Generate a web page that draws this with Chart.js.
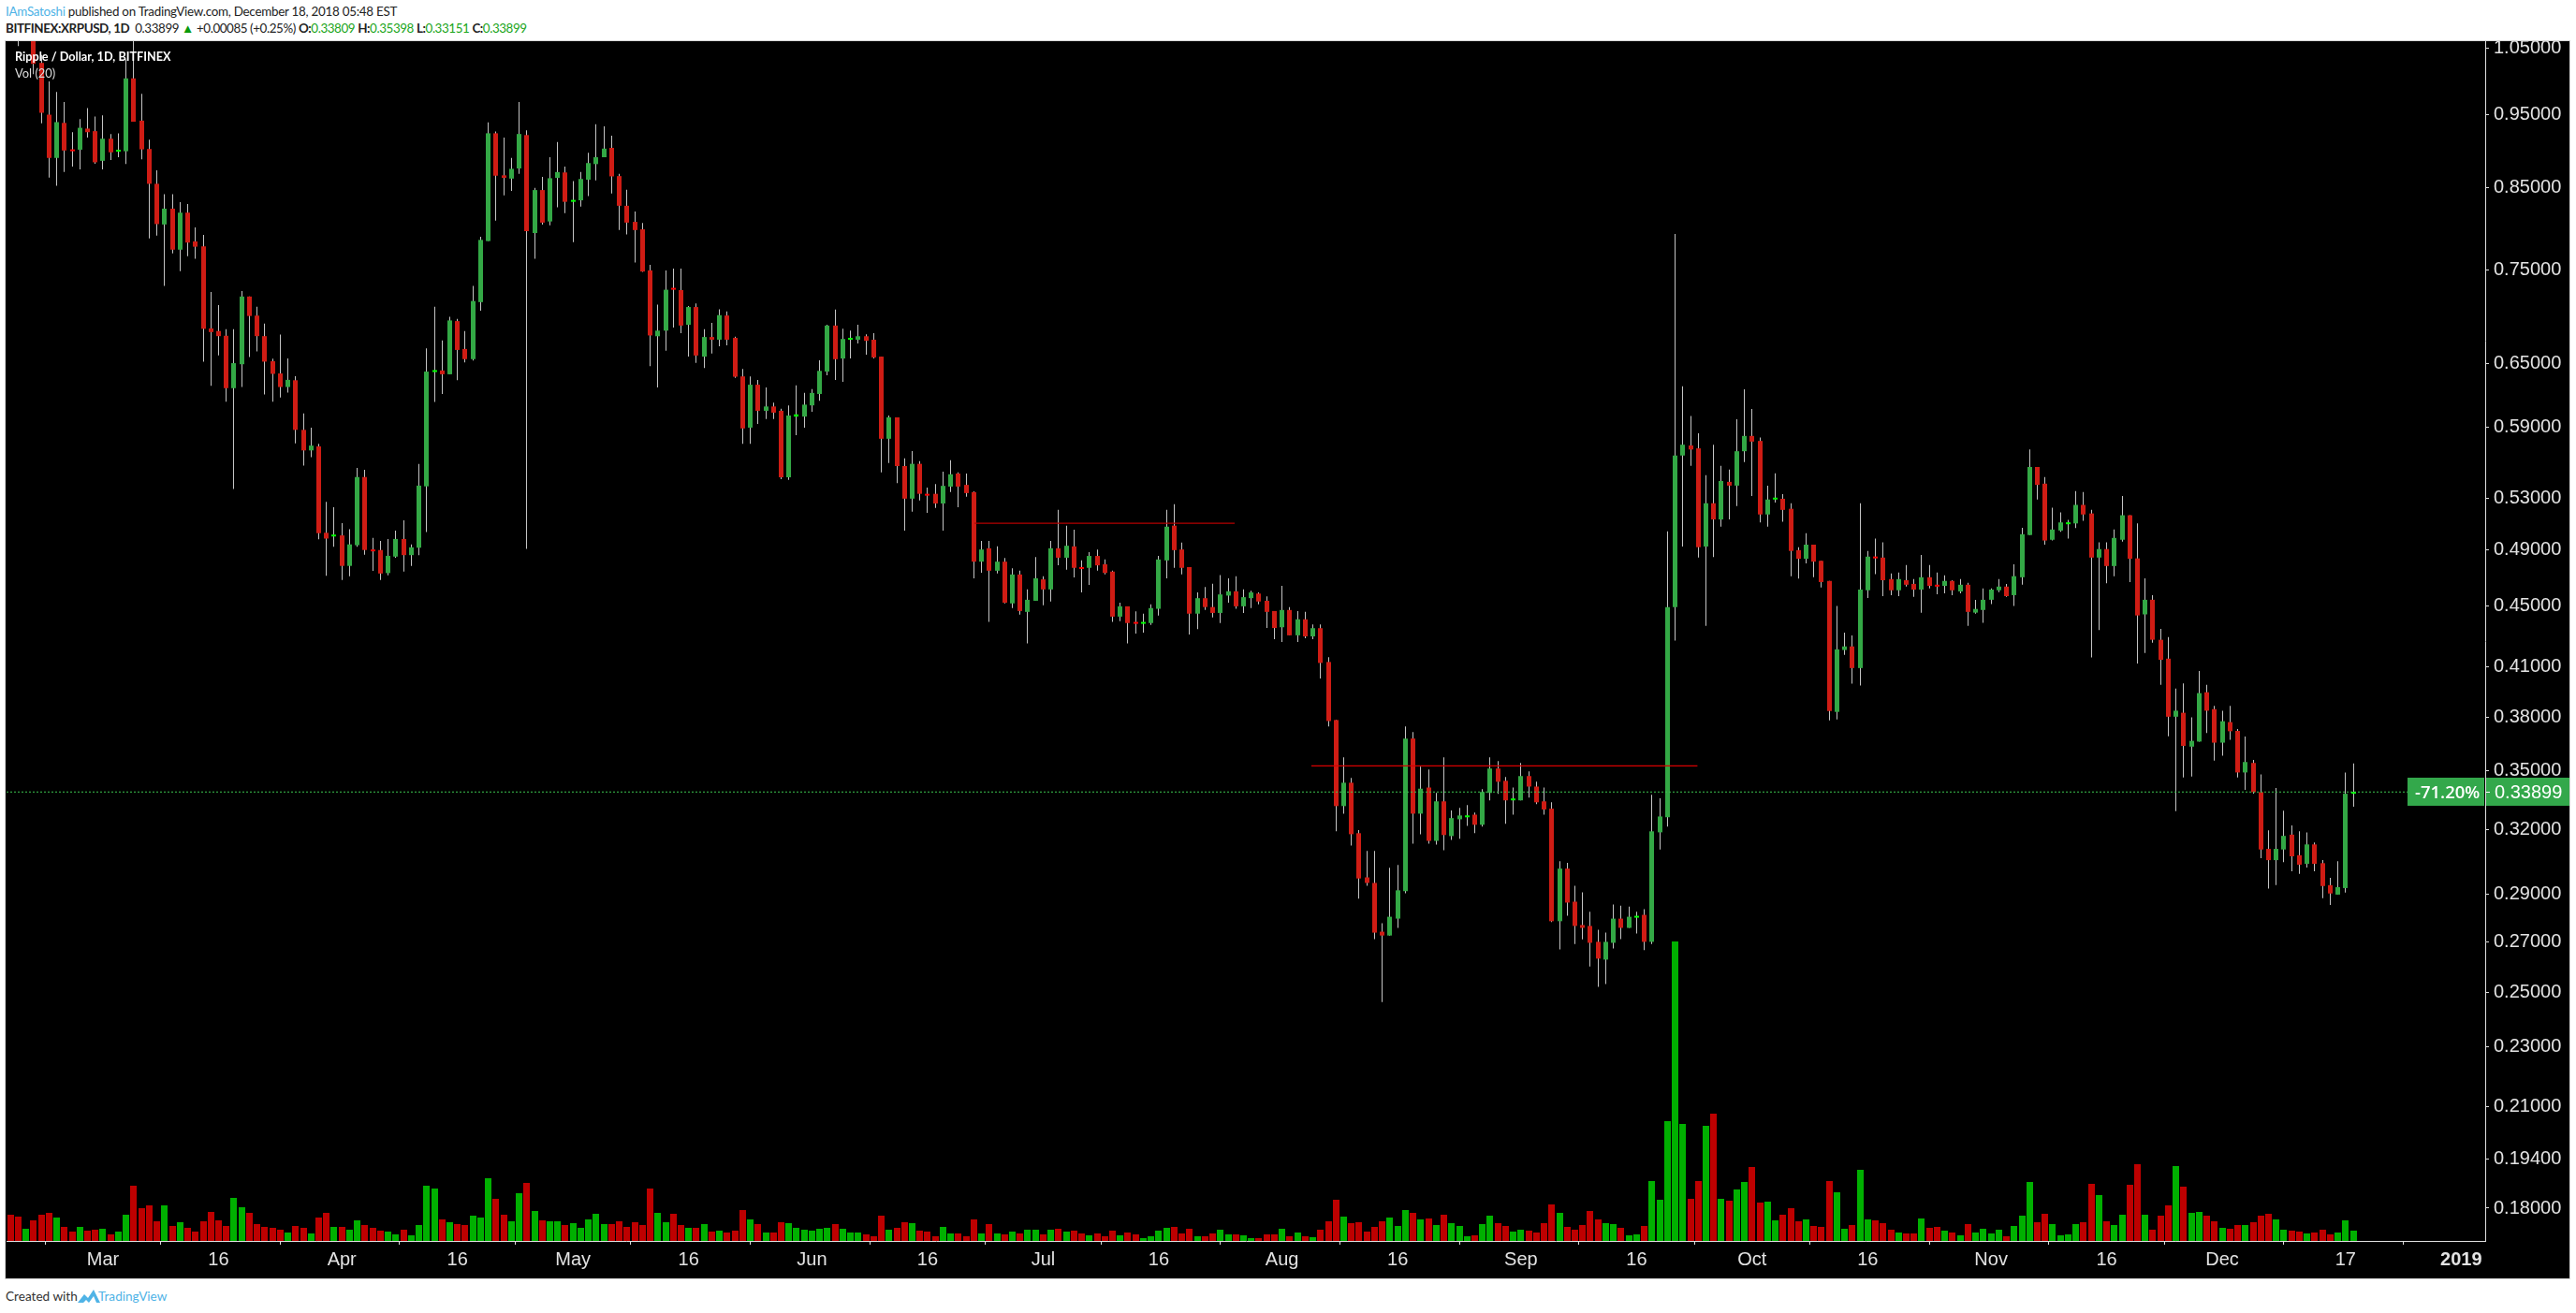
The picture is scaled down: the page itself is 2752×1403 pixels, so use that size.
<!DOCTYPE html>
<html><head><meta charset="utf-8"><title>XRPUSD</title>
<script src="https://cdn.jsdelivr.net/npm/chart.js@4/dist/chart.umd.min.js"></script>
<style>
html,body{margin:0;padding:0;background:#fff;width:2752px;height:1403px;overflow:hidden}
.t{position:absolute;white-space:nowrap;font-family:Lato,"Noto Sans",sans-serif;font-size:13.4px;color:#222;line-height:18px}
.g{color:#1aa51a}.b{color:#4fb3e6}.k{font-weight:700}
#frame{position:absolute;left:5px;top:43px;width:2739px;height:1322px;border:1px solid #d6d6d6;background:#000}
canvas{position:absolute;left:0;top:0}
</style></head><body>
<div class="t" style="left:6px;top:3px;letter-spacing:-.26px"><span class="b">IAmSatoshi</span> published on TradingView.com, December 18, 2018 05:48 EST</div>
<div class="t" style="left:6px;top:21px;letter-spacing:-.42px"><span class="k">BITFINEX:XRPUSD, 1D</span>&nbsp; 0.33899 <span style="color:#0a9a0a">▲</span> +0.00085 (+0.25%) <span class="k">O:</span><span class="g">0.33809</span> <span class="k">H:</span><span class="g">0.35398</span> <span class="k">L:</span><span class="g">0.33151</span> <span class="k">C:</span><span class="g">0.33899</span></div>
<div id="frame"><canvas id="c" width="2739" height="1322"></canvas></div>
<div class="t" style="left:16px;top:51px;color:#fff;font-size:12.7px;font-weight:700">Ripple / Dollar, 1D, BITFINEX</div>
<div class="t" style="left:16px;top:69px;color:#ddd;font-size:12.9px">Vol (20)</div>
<div class="t" style="left:6px;top:1376px;color:#333;font-size:13.6px">Created with</div>
<svg style="position:absolute;left:83px;top:1377px" width="24" height="16" viewBox="0 0 24 16"><path d="M0 15 L7 6 L11 10 L17 1 L24 15 L20 15 L17 8 L12 15 L9 12 L6 15 Z" fill="#4fb3e6"/></svg>
<div class="t b" style="left:105px;top:1376px;font-size:13.6px">TradingView</div>
<script>
const firstDay = -12; // days relative to 1 March 2018
const opens = [
1.15,1.12,1.10,1.10,1.0275,.9497,.8892,.9379,.9004,.9004,
.9298,.9262,.8853,.9156,.8978,.8983,1.0036,.9411,.9014,.8549,
.8036,.8232,.7734,.8182,.7832,.7773,.6861,.6834,.6785,.6265,
.6497,.7202,.6996,.6781,.6527,.6407,.6276,.6341,.5880,.5699,
.5734,.5028,.5000,.5008,.4781,.4934,.5473,.4901,.4898,.4729,
.4849,.4981,.4860,.4915,.5396,.6421,.6436,.6399,.6938,.6650,
.6548,.7141,.7836,.9232,.8660,.8617,.8751,.9207,.7932,.8468,
.8073,.8626,.8698,.8318,.8337,.8602,.8809,.8902,.9029,.8650,
.8268,.8068,.7977,.7494,.6780,.6838,.7294,.7273,.6899,.7088,
.6573,.6772,.6744,.6997,.6763,.6378,.5900,.6298,.6053,.6093,
.6053,.5471,.6000,.6000,.6103,.6210,.6425,.6891,.6554,.6744,
.6744,.6780,.6744,.6573,.5801,.5993,.5565,.5296,.5584,.5335,
.5335,.5257,.5394,.5502,.5408,.5349,.4812,.4911,.4746,.4812,
.4516,.4719,.4458,.4534,.4684,.4613,.4911,.4841,.4925,.4772,
.4767,.4854,.4793,.4740,.4426,.4496,.4388,.4378,.4383,.4479,
.4821,.5083,.4902,.4772,.4446,.4552,.4491,.4451,.4570,.4600,
.4496,.4552,.4584,.4534,.4464,.4355,.4471,.4302,.4408,.4295,
.4349,.4131,.3782,.3318,.3438,.3184,.2977,.2952,.2741,.2725,
.2796,.2915,.3677,.3280,.3413,.3147,.3342,.3170,.3252,.3262,
.3275,.3225,.3385,.3513,.3448,.3347,.3347,.3473,.3418,.3342,
.3305,.2785,.3017,.2869,.2769,.2765,.2699,.2627,.2695,.2796,
.2757,.2800,.2812,.2699,.3188,.3262,.4490,.5655,.5742,.5717,
.4924,.5259,.5131,.5433,.5402,.5692,.5826,.5782,.5170,.5289,
.5295,.5215,.4897,.4833,.4938,.4818,.4673,.3829,.4207,.4230,
.4093,.4607,.4849,.4842,.4686,.4607,.4678,.4652,.4612,.4699,
.4646,.4638,.4673,.4599,.4646,.4453,.4471,.4541,.4607,.4633,
.4573,.4699,.5011,.5557,.5418,.4975,.5045,.5094,.5100,.5246,
.5178,.4842,.4905,.4780,.4975,.5164,.4836,.4441,.4541,.4273,
.4152,.3801,.3824,.3632,.3660,.3945,.3845,.3654,.3770,.3720,
.3492,.3543,.3389,.3109,.3056,.3106,.3177,.3079,.3039,.3130,
.3042,.2942,.2900,.2929,.33809];
const highs = [
1.17,1.15,1.13,1.12,1.04,.9990,.9831,.9680,.9247,.9433,
.9594,.9470,.9486,.9222,.9232,1.0331,1.07,.9804,.9141,.8727,
.8415,.8415,.8313,.8290,.8000,.7909,.7251,.7108,.6853,.6853,
.7263,.7202,.7090,.6911,.6552,.6796,.6555,.6381,.6028,.5900,
.5757,.5270,.5228,.5103,.5055,.5549,.5534,.4989,.4967,.4981,
.5044,.5124,.4940,.5583,.6657,.7090,.6736,.6984,.6961,.6834,
.7320,.7886,.9385,.9257,.9171,.8892,.9680,.9272,.8497,.8641,
.8902,.9110,.8775,.8583,.8703,.8963,.9359,.9330,.9197,.8679,
.8473,.8195,.8054,.7558,.7115,.7494,.7515,.7515,.7099,.7127,
.6852,.6919,.7064,.7040,.6775,.6450,.6378,.6344,.6273,.6129,
.6073,.6103,.6291,.6220,.6256,.6536,.6899,.7060,.6859,.6838,
.6899,.6800,.6812,.6573,.6010,.5993,.5631,.5694,.5606,.5385,
.5414,.5518,.5615,.5512,.5502,.5355,.4967,.4967,.4925,.4839,
.4764,.4746,.4613,.4846,.4706,.4967,.5207,.5083,.5051,.4821,
.4882,.4902,.4828,.4746,.4521,.4496,.4461,.4446,.4509,.4854,
.5207,.5251,.4953,.4772,.4592,.4630,.4653,.4714,.4692,.4706,
.4613,.4603,.4592,.4565,.4464,.4638,.4491,.4464,.4458,.4374,
.4374,.4161,.3782,.3573,.3463,.3199,.3099,.3099,.2777,.3021,
.3034,.3745,.3713,.3523,.3508,.3385,.3573,.3296,.3309,.3323,
.3285,.3405,.3573,.3553,.3468,.3413,.3543,.3498,.3443,.3413,
.3337,.3051,.3043,.2939,.2910,.2825,.2749,.2737,.2857,.2852,
.2848,.2825,.2836,.3376,.3357,.5039,.7921,.6282,.6006,.5849,
.5488,.5749,.5567,.5535,.5975,.6254,.6070,.5812,.5402,.5504,
.5333,.5259,.4919,.5025,.4938,.4818,.4673,.4498,.4320,.4301,
.5259,.4891,.4983,.4955,.4726,.4734,.4787,.4686,.4862,.4787,
.4734,.4713,.4678,.4686,.4660,.4541,.4620,.4620,.4686,.4652,
.4792,.5067,.5707,.5557,.5473,.5224,.5187,.5128,.5358,.5350,
.5206,.4955,.4955,.5053,.5317,.5164,.5100,.4691,.4573,.4344,
.4290,.3968,.3998,.3797,.4075,.3990,.3864,.3836,.3864,.3731,
.3688,.3559,.3482,.3198,.3411,.3295,.3222,.3193,.3188,.3139,
.3056,.2975,.3051,.3492,.35398];
const lows = [
1.08,1.054,1.07,1.010,.9374,.8631,.8525,.8703,.8775,.8737,
.9171,.8813,.8737,.8863,.8902,.8809,.9395,.8873,.7868,.7900,
.7320,.7691,.7485,.7657,.7627,.6523,.6287,.6585,.6138,.5375,
.6276,.6570,.6625,.6206,.6138,.6176,.6224,.5760,.5570,.5641,
.4978,.4710,.4923,.4680,.4707,.4923,.4863,.4745,.4680,.4713,
.4841,.4740,.4781,.4860,.5034,.6135,.6210,.6399,.6341,.6515,
.6534,.7048,.7836,.8082,.8401,.8458,.8679,.4907,.7627,.8036,
.8027,.8250,.8177,.7823,.8259,.8391,.8593,.8902,.8424,.7968,
.7914,.7584,.7477,.6479,.6273,.6633,.6871,.6812,.6573,.6511,
.6461,.6603,.6677,.6688,.6364,.5757,.5757,.5933,.5977,.5977,
.5455,.5449,.5833,.5900,.6043,.6146,.6390,.6344,.6326,.6554,
.6707,.6592,.6554,.5512,.5590,.5423,.5045,.5192,.5281,.5183,
.5222,.5045,.5349,.5228,.5311,.4692,.4732,.4391,.4727,.4516,
.4484,.4439,.4250,.4534,.4504,.4529,.4785,.4753,.4698,.4592,
.4645,.4746,.4719,.4391,.4396,.4250,.4314,.4319,.4371,.4433,
.4692,.4767,.4719,.4307,.4342,.4471,.4421,.4383,.4521,.4479,
.4451,.4484,.4509,.4350,.4277,.4258,.4302,.4258,.4283,.4276,
.4028,.3745,.3193,.3280,.3125,.2882,.2939,.2710,.2463,.2725,
.2757,.2906,.3134,.3179,.3134,.3129,.3102,.3152,.3157,.3220,
.3184,.3216,.3347,.3380,.3230,.3275,.3347,.3361,.3328,.3275,
.2781,.2668,.2808,.2690,.2709,.2600,.2520,.2531,.2672,.2710,
.2757,.2733,.2665,.2690,.3106,.3216,.4268,.4924,.5567,.4842,
.4364,.4845,.5075,.5131,.5237,.5598,.5317,.5108,.5075,.5265,
.5114,.4707,.4689,.4800,.4699,.4626,.3780,.3786,.4176,.3997,
.3986,.4553,.4721,.4566,.4573,.4566,.4633,.4561,.4453,.4620,
.4579,.4586,.4573,.4586,.4364,.4446,.4384,.4511,.4594,.4561,
.4498,.4646,.5011,.5289,.4938,.4969,.5036,.4983,.5064,.5120,
.4159,.4336,.4656,.4707,.4961,.4665,.4122,.4188,.4254,.3990,
.3690,.3292,.3466,.3470,.3660,.3708,.3556,.3582,.3670,.3465,
.3401,.3381,.3065,.2927,.2942,.3047,.3005,.2993,.3022,.3005,
.2884,.2855,.2900,.2909,.33151];
const closes = [
1.12,1.10,1.10,1.026,.9524,.8892,.9390,.8993,.8983,.9309,
.9247,.8833,.9156,.8968,.8988,1.0036,.9395,.9009,.8549,.8041,
.8232,.7734,.8182,.7818,.7769,.6857,.6823,.6781,.6265,.6508,
.7202,.6992,.6781,.6523,.6403,.6276,.6345,.5880,.5699,.5741,
.5025,.4984,.5006,.4781,.4940,.5473,.4898,.4888,.4726,.4855,
.4981,.4860,.4918,.5402,.6425,.6436,.6399,.6945,.6640,.6548,
.7153,.7850,.9232,.8655,.8626,.8746,.9222,.7955,.8468,.8059,
.8622,.8703,.8318,.8342,.8612,.8823,.8902,.9019,.8646,.8268,
.8059,.7968,.7481,.6788,.6838,.7277,.7277,.6891,.7088,.6584,
.6772,.6744,.7001,.6744,.6375,.5893,.6298,.6053,.6093,.6036,
.5471,.6010,.6020,.6110,.6220,.6432,.6891,.6547,.6752,.6752,
.6780,.6733,.6565,.5801,.5993,.5565,.5296,.5584,.5335,.5320,
.5257,.5400,.5496,.5394,.5341,.4812,.4902,.4746,.4812,.4521,
.4719,.4464,.4541,.4692,.4613,.4911,.4841,.4930,.4767,.4759,
.4854,.4785,.4730,.4426,.4496,.4383,.4378,.4388,.4484,.4828,
.5075,.4897,.4767,.4446,.4552,.4491,.4451,.4578,.4600,.4496,
.4559,.4592,.4529,.4458,.4350,.4471,.4302,.4408,.4295,.4349,
.4125,.3776,.3318,.3438,.3179,.2972,.2952,.2737,.2725,.2804,
.2919,.3677,.3280,.3407,.3147,.3342,.3175,.3258,.3271,.3271,
.3225,.3390,.3513,.3443,.3347,.3352,.3473,.3418,.3337,.3301,
.2785,.3017,.2865,.2765,.2757,.2695,.2631,.2699,.2796,.2757,
.2804,.2808,.2699,.3193,.3266,.4490,.5655,.5749,.5707,.4919,
.5259,.5131,.5440,.5402,.5692,.5826,.5776,.5170,.5289,.5295,
.5206,.4891,.4833,.4938,.4812,.4665,.3834,.4211,.4230,.4093,
.4612,.4849,.4836,.4678,.4607,.4686,.4646,.4612,.4699,.4638,
.4633,.4673,.4607,.4646,.4458,.4478,.4541,.4612,.4633,.4566,
.4707,.5017,.5557,.5408,.4969,.5053,.5108,.5108,.5246,.5170,
.4842,.4905,.4780,.4989,.5164,.4833,.4434,.4541,.4273,.4145,
.3801,.3836,.3636,.3664,.3940,.3836,.3654,.3775,.3718,.3492,
.3548,.3389,.3106,.3056,.3109,.3171,.3074,.3035,.3130,.3039,
.2938,.2905,.2933,.3381,.33899];
const volumesHalf = [ // twice these = volume, millions (estimated)
28,26,13,22,28,30,25,15,10,15,
11,12,13,7,10,28,59,35,38,21,
38,16,20,14,10,21,31,22,16,46,
36,30,18,15,14,12,9,16,14,8,
25,30,15,15,12,22,17,14,11,10,
7,12,6,17,59,56,23,20,18,17,
27,25,67,45,28,21,51,62,32,22,
21,21,17,19,14,23,29,18,18,21,
15,20,17,56,30,20,29,17,14,14,
18,10,11,9,11,33,23,18,9,9,
20,19,14,12,11,13,14,18,13,9,
9,7,5,27,12,14,20,19,11,10,
5,15,8,8,5,23,8,18,8,7,
10,8,12,12,7,12,13,10,11,8,
6,8,5,11,6,9,7,3,5,11,
14,15,8,13,5,5,8,12,7,7,
6,3,3,7,7,13,5,9,5,4,
12,21,44,26,19,20,10,15,21,25,
16,33,30,23,24,17,28,19,16,5,
6,18,27,19,16,10,12,11,9,19,
39,30,15,12,17,32,23,19,18,14,
6,7,16,64,44,128,320,125,45,64,
123,136,45,43,55,63,79,41,42,22,
28,35,21,23,16,15,64,52,13,17,
76,23,22,19,12,9,8,8,24,14,
15,11,9,6,18,9,13,8,12,5,
16,27,63,20,29,18,6,7,18,20,
61,49,21,17,28,60,82,28,12,27,
38,80,58,30,31,27,21,14,13,17,
17,20,27,29,23,12,11,10,8,9,
12,7,9,22,11];
const priceTicks = [1.05,.95,.85,.75,.65,.59,.53,.49,.45,.41,.38,.35,.32,.29,.27,.25,.23,.21,.194,.18];
const timeTickDays = [0,15,31,46,61,76,92,107,122,137,153,168,184,199,214,229,245,260,275,291,306];
const timeTickLabels = ['Mar','16','Apr','16','May','16','Jun','16','Jul','16','Aug','16','Sep','16','Oct','16','Nov','16','Dec','17','2019'];
const resistanceA = {from:113.1,to:146.85,price:.5102};
const resistanceB = {from:156.8,to:206.9,price:.3527};
const lastPrice = .33899;
const lastChangeLabel = '-71.20%';

const RED='#cf1c14',GREEN='#33a845',RED_DOJI='#ff0000',GREEN_DOJI='#00ff00',VOL_RED='#be0000',VOL_GREEN='#00b000';
const days = opens.map((_,i)=>firstDay+i);
const isUp = i => closes[i]>=opens[i];
const isDoji = i => Math.abs(Math.log(closes[i]/opens[i]))<0.0036;
const volumes = volumesHalf.map(v=>v*2);

const crisp = {id:'crisp',afterDatasetsUpdate(ch){
  ch.data.datasets.forEach((d,i)=>{const m=ch.getDatasetMeta(i);
    if(m.type==='bar') m.data.forEach(el=>{el.x=Math.floor(el.x)+0.5;});});
}};
const lastLabel = {id:'lastLabel',afterDraw(ch){
  const c=ch.ctx,y=ch.scales.y.getPixelForValue(lastPrice),a=ch.chartArea,w=ch.width;
  const top=Math.round(y)-15;
  c.save();c.fillStyle='#33a84b';
  c.fillRect(a.right-83,top,82,30);c.fillRect(a.right+1,top,w-a.right-1,30);
  c.fillStyle='#fff';c.fillRect(a.right+1,Math.round(y),4,1);
  c.textBaseline='middle';c.textAlign='left';
  c.font='600 18.5px "Open Sans"';c.fillText(lastChangeLabel,a.right-75,y+1);
  c.font='20px "Liberation Sans"';c.fillText(lastPrice.toFixed(5),a.right+10,y+1);
  c.restore();
}};

const hLine=(l,color)=>({type:'line',order:0,data:[{x:l.from,y:l.price},{x:l.to,y:l.price}],borderColor:color,borderWidth:1.2,pointRadius:0,yAxisID:'y'});

new Chart(document.getElementById('c'),{
  type:'bar',
  plugins:[crisp,lastLabel],
  data:{datasets:[
    {label:'Vol',order:4,yAxisID:'yv',barThickness:7,inflateAmount:0,grouped:false,
      data:days.map((d,i)=>({x:d,y:volumes[i]})),
      backgroundColor:days.map((_,i)=>isUp(i)?VOL_GREEN:VOL_RED)},
    {label:'Wick',order:3,yAxisID:'y',barThickness:1,inflateAmount:0,grouped:false,
      data:days.map((d,i)=>({x:d,y:[lows[i],highs[i]]})),backgroundColor:'#c4c4c4'},
    {label:'Body',order:2,yAxisID:'y',barThickness:5,inflateAmount:0,grouped:false,minBarLength:2,
      data:days.map((d,i)=>({x:d,y:[opens[i],closes[i]]})),
      backgroundColor:days.map((_,i)=>isDoji(i)?(isUp(i)?GREEN_DOJI:RED_DOJI):(isUp(i)?GREEN:RED))},
    hLine(resistanceA,'#b40000'),
    hLine(resistanceB,'#d80000'),
    {type:'line',order:1,yAxisID:'y',data:[{x:-12.51,y:lastPrice},{x:309.12,y:lastPrice}],borderColor:'#3cc850',borderWidth:1,borderDash:[2,2],pointRadius:0}
  ]},
  options:{
    responsive:false,animation:false,events:[],
    layout:{autoPadding:false,padding:{left:1,top:0,right:0,bottom:0}},
    plugins:{legend:{display:false},tooltip:{enabled:false}},
    scales:{
      x:{type:'linear',min:-12.51,max:309.12,offset:false,
        grid:{drawOnChartArea:false,drawTicks:true,tickLength:4,tickColor:'#ddd'},
        border:{color:'#e0e0e0',width:1},
        afterFit:s=>{s.height=40;s.paddingLeft=0;s.paddingRight=0;},
        afterBuildTicks:s=>{s.ticks=timeTickDays.map(v=>({value:v}));},
        ticks:{autoSkip:false,maxRotation:0,padding:4,color:'#e2e2e2',
          font:ctx=>({family:'"Liberation Sans"',size:20,weight:ctx.tick&&ctx.tick.value===306?'bold':'normal'}),
          callback:v=>timeTickLabels[timeTickDays.indexOf(v)]}},
      y:{type:'logarithmic',position:'right',min:.17125,max:1.062,
        grid:{drawOnChartArea:false,drawTicks:true,tickLength:4,tickColor:'#ddd'},
        border:{color:'#e0e0e0',width:1},
        afterFit:s=>{s.width=90;s.paddingTop=0;s.paddingBottom=0;},
        afterBuildTicks:s=>{s.ticks=priceTicks.map(v=>({value:v}));},
        ticks:{autoSkip:false,padding:5,color:'#e2e2e2',font:{family:'"Liberation Sans"',size:20},
          callback:v=>Number(v).toFixed(5)}},
      yv:{type:'linear',display:false,min:0,max:2564}
    }
  }
});
</script>
</body></html>
